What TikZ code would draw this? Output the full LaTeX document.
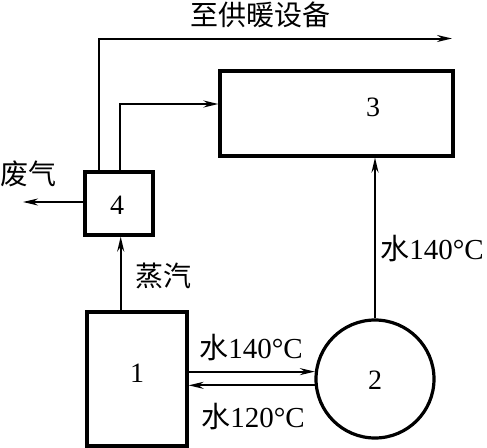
\documentclass[tikz,border=0pt]{standalone}
\usepackage{fontspec}
\setmainfont{Liberation Serif}
\newfontfamily\cjk{Noto Sans CJK SC}
\usetikzlibrary{arrows.meta,calc}
\begin{document}
\begin{tikzpicture}[x=1pt,y=-1pt,
  box/.style={draw,line width=3.2pt,inner sep=0pt,minimum width=#1},
  conn/.style={line width=2pt},
  arr/.style={conn,-{Stealth[length=15pt,width=7pt,inset=5pt]}},
  lbl/.style={inner sep=0pt,font=\fontsize{28}{30}\selectfont},
  txt/.style={inner sep=0pt,font=\fontsize{28}{30}\selectfont},
  ltx/.style={inner sep=0pt,font=\fontsize{29}{31}\selectfont}]
\useasboundingbox (0,0) rectangle (487,447);
% boxes
\node[box=233pt,minimum height=85pt] (b3) at (336.5,113.5) {};
\node[lbl] (l3) at (373,107) {3};
\node[box=68pt,minimum height=63pt] (b4) at (119,203.5) {};
\node[lbl] (l4) at (117,205) {4};
\node[box=100pt,minimum height=134pt] (b1) at (137,379) {};
\node[lbl] (l1) at (137,373) {1};
\node[draw,circle,line width=3.2pt,minimum size=118pt,inner sep=0pt] (c2) at (375,379) {};
\node[lbl] (l2) at (375,380) {2};
% free ends
\coordinate (out) at (452,38.5);
\coordinate (ex) at (23,202);
% connectors
\draw[arr] (b4.north -| 99,0) |- (out);
\draw[arr] (b4.north -| 120,0) |- (b3.west |- 0,104);
\draw[arr] (b4.west |- 0,202) -- (ex);
\draw[arr] (b1.north -| 120.7,0) -- (b4.south -| 120.7,0);
\draw[arr] (c2.north) -- (b3.south -| c2.north);
\draw[arr] (b1.east |- c2.173) -- (c2.173);
\draw[arr] (c2.186) -- (b1.east |- c2.186);
% texts
\node[txt] (t1) at (260,15) {\cjk 至供暖设备};
\node[txt] (t2) at (28,174) {\cjk 废气};
\node[txt] (t3) at (163,276) {\cjk 蒸汽};
\node[ltx] (t4) at (251,348) {{\cjk 水}140°C};
\node[ltx] (t5) at (253,417) {{\cjk 水}120°C};
\node[ltx] (t6) at (432,249) {{\cjk 水}140°C};
\end{tikzpicture}
\end{document}
